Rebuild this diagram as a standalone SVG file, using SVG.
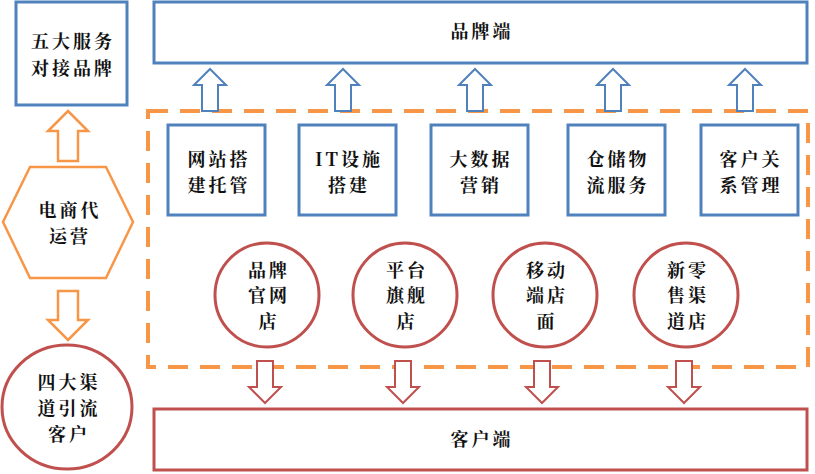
<svg xmlns="http://www.w3.org/2000/svg" width="815" height="474" viewBox="0 0 815 474">
<defs>
<path id="up" d="M0,0 L16,16 L8,16 L8,42 L-8,42 L-8,16 L-16,16 Z"/>
<path id="dn" d="M0,0 L-16,-16 L-8,-16 L-8,-42 L8,-42 L8,-16 L16,-16 Z"/>
</defs>
<style>
text{font-family:"Noto Serif CJK SC","Noto Sans CJK SC",serif;font-size:18px;font-weight:bold;fill:#111;text-anchor:middle;letter-spacing:3px}
.b{fill:#fff;stroke:#4f81bd;stroke-width:3}
.r{fill:#fff;stroke:#c0504d;stroke-width:3}
.o{fill:#fff;stroke:#f79646;stroke-width:2.5}
</style>
<rect width="815" height="474" fill="#fff"/>
<g id="connectors">
<rect x="148" y="111" width="660" height="256" fill="none" stroke="#f79646" stroke-width="4" stroke-dasharray="20,12"/>
<use href="#up" x="210" y="69" class="b" style="stroke-width:2"/>
<use href="#up" x="343" y="69" class="b" style="stroke-width:2"/>
<use href="#up" x="475" y="69" class="b" style="stroke-width:2"/>
<use href="#up" x="613" y="69" class="b" style="stroke-width:2"/>
<use href="#up" x="745" y="69" class="b" style="stroke-width:2"/>
<use href="#dn" x="265" y="403" class="r" style="stroke-width:2"/>
<use href="#dn" x="403" y="403" class="r" style="stroke-width:2"/>
<use href="#dn" x="542" y="403" class="r" style="stroke-width:2"/>
<use href="#dn" x="684" y="403" class="r" style="stroke-width:2"/>
<path class="o" d="M68,111 L88,131 L78,131 L78,161 L58,161 L58,131 L48,131 Z"/>
<path class="o" d="M68,340 L88,320 L78,320 L78,291 L58,291 L58,320 L48,320 Z"/>
</g>
<g id="n-five"><rect class="b" x="16" y="2" width="111" height="103"/><text x="73" y="48">五大服务</text><text x="73" y="75">对接品牌</text></g>
<g id="n-brand"><rect class="b" x="154" y="2" width="653" height="61"/><text x="482" y="38">品牌端</text></g>
<g id="n-hex"><path class="o" d="M30,167 L106,167 L133,222 L106,278 L30,278 L3,222 Z"/><text x="70" y="217">电商代</text><text x="70" y="243">运营</text></g>
<g id="n-four"><ellipse class="r" cx="67" cy="407" rx="65" ry="62"/><text x="69" y="389">四大渠</text><text x="69" y="415">道引流</text><text x="69" y="441">客户</text></g>
<g id="n-b1"><rect class="b" x="168" y="125" width="97" height="90"/><text x="219" y="166">网站搭</text><text x="219" y="192">建托管</text></g>
<g id="n-b2"><rect class="b" x="299" y="125" width="97" height="90"/><text x="349" y="166">IT设施</text><text x="349" y="192">搭建</text></g>
<g id="n-b3"><rect class="b" x="431" y="125" width="97" height="90"/><text x="481" y="166">大数据</text><text x="481" y="192">营销</text></g>
<g id="n-b4"><rect class="b" x="568" y="125" width="97" height="90"/><text x="618" y="166">仓储物</text><text x="618" y="192">流服务</text></g>
<g id="n-b5"><rect class="b" x="701" y="125" width="97" height="90"/><text x="751" y="166">客户关</text><text x="751" y="192">系管理</text></g>
<g id="n-c1"><circle class="r" cx="267" cy="295" r="52"/><text x="269" y="277">品牌</text><text x="269" y="302">官网</text><text x="269" y="328">店</text></g>
<g id="n-c2"><circle class="r" cx="405" cy="295" r="52"/><text x="407" y="277">平台</text><text x="407" y="302">旗舰</text><text x="407" y="328">店</text></g>
<g id="n-c3"><circle class="r" cx="545" cy="295" r="52"/><text x="547" y="277">移动</text><text x="547" y="302">端店</text><text x="547" y="328">面</text></g>
<g id="n-c4"><circle class="r" cx="686" cy="295" r="52"/><text x="688" y="277">新零</text><text x="688" y="302">售渠</text><text x="688" y="328">道店</text></g>
<g id="n-cust"><rect class="r" x="154" y="409" width="653" height="61"/><text x="482" y="446">客户端</text></g>
</svg>
